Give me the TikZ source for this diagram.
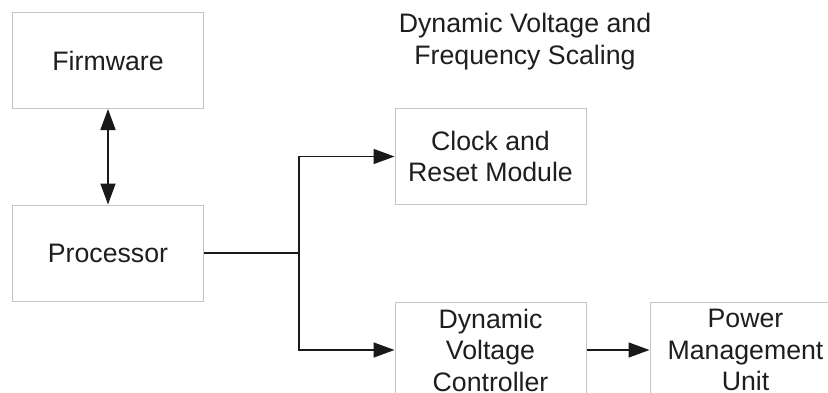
\documentclass[tikz,border=0pt]{standalone}
\usepackage{fontspec}
\setmainfont{Liberation Sans}
\usetikzlibrary{arrows.meta}
\definecolor{boxgray}{HTML}{C4C4C4}
\definecolor{txt}{HTML}{1E1E1E}
\tikzset{
  blk/.style={draw=boxgray, line width=1pt, fill=white, minimum width=191pt, minimum height=96pt,
    inner sep=0pt, align=center, text=txt, font=\fontsize{26.7}{31.5}\selectfont},
  conn/.style={draw=black!90, line width=1.5pt},
  tip/.style={-{Triangle[length=21pt,width=15pt]}},
  lbl/.style={align=center, text=txt, font=\fontsize{26.7}{32}\selectfont, inner sep=0pt}
}
\begin{document}
\begin{tikzpicture}[x=1pt,y=-1pt]
\useasboundingbox (0,0) rectangle (828,392);
\clip (0,0) rectangle (828,392);
\fill[white] (0,0) rectangle (828,392);
\node[blk] (fw) at (108,60.5) {Firmware};
\node[blk] (proc) at (108,253) {Processor};
\node[blk] (clk) at (490.5,156.5) {Clock and\\Reset Module};
\node[blk] (dvc) at (490.5,350) {Dynamic\\Voltage\\Controller};
\node[blk] (pmu) at (745.5,350) {Power\\Management\\Unit};
\node[lbl] (title) at (525,42) {Dynamic Voltage and\\Frequency Scaling};
\coordinate (j) at (299,253);
\draw[conn, {Triangle[length=21pt,width=15pt]}-{Triangle[length=21pt,width=15pt]}] (fw.south) -- (proc.north);
\draw[conn] (proc.east) -- (j);
\draw[conn, tip] (j) |- (clk.west);
\draw[conn, tip] (j) |- (dvc.west);
\draw[conn, tip] (dvc.east) -- (pmu.west);
\end{tikzpicture}
\end{document}
